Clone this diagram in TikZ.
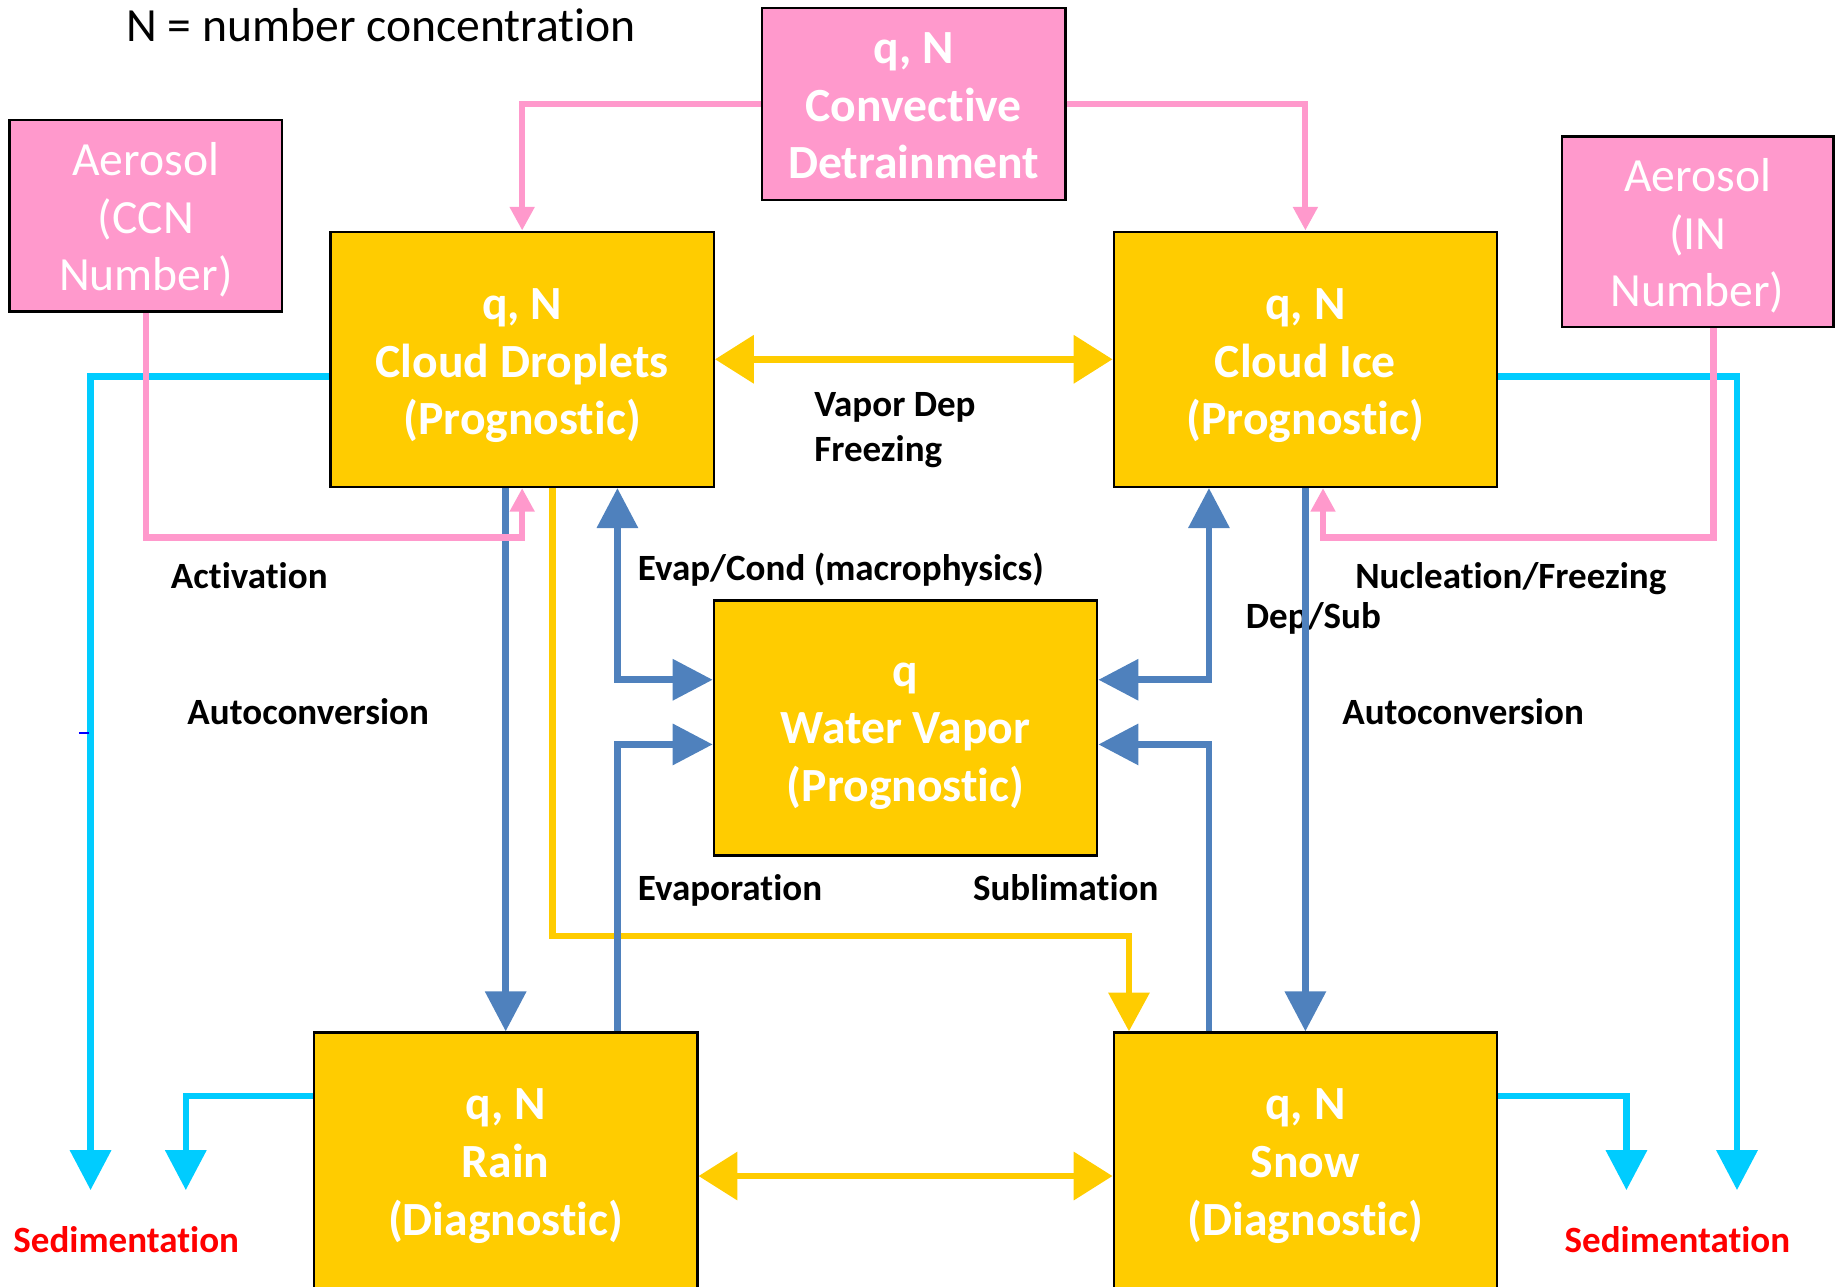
\documentclass[tikz,border=0pt]{standalone}
\usepackage{fontspec}
\setmainfont{Carlito}[Ligatures={NoCommon}]
\usetikzlibrary{arrows.meta,calc}
\definecolor{pinkc}{HTML}{FF99CC}
\definecolor{goldc}{HTML}{FFCC00}
\definecolor{bluec}{HTML}{4F81BD}
\definecolor{cyanc}{HTML}{00CCFF}
\definecolor{redc}{HTML}{FF0000}
\begin{document}
\begin{tikzpicture}[x=0.5pt,y=-0.5pt,
  box/.style={draw=black, line width=1pt, fill=goldc,
    inner sep=0pt, minimum width=163pt, minimum height=108.5pt},
  boxtxt/.style={text=white, font=\bfseries\fontsize{20.25}{24.5}\selectfont, align=center, inner sep=0pt},
  pbox/.style={draw=black, line width=1pt, fill=pinkc, inner sep=0pt},
  ptxt/.style={text=white, font=\fontsize{20.25}{24.5}\selectfont, align=center, inner sep=0pt},
  lbl/.style={font=\bfseries\fontsize{15.75}{19}\selectfont, anchor=base west, inner sep=0pt},
  yarr/.style={draw=goldc, line width=2.8pt, -{Triangle[length=16.5pt,width=17pt]}},
  yarrtwo/.style={draw=goldc, line width=2.8pt, {Triangle[length=16.5pt,width=20pt]}-{Triangle[length=16.5pt,width=20pt]}},
  barr/.style={draw=bluec, line width=2.8pt, -{Triangle[length=17pt,width=17pt]}},
  barrtwo/.style={draw=bluec, line width=2.8pt, {Triangle[length=17pt,width=17pt]}-{Triangle[length=17pt,width=17pt]}},
  carr/.style={draw=cyanc, line width=2.8pt, -{Triangle[length=17pt,width=17pt]}},
  parr/.style={draw=pinkc, line width=2.6pt, -{Triangle[length=10pt,width=10pt]}}
]
\useasboundingbox (0,0) rectangle (1568,1094);
\clip (0,0) rectangle (1568,1094);

% title
\node[anchor=base west, inner sep=0pt, font=\fontsize{20.25}{24}\selectfont] (title) at (107,35) {N = number concentration};

% boxes
\node[box] (drop) at (444,305.5) {};
\node[box] (ice) at (1110,305.5) {};
\node[box] (vap) at (770,619) {};
\node[box] (rain) at (430,986.5) {};
\node[box] (snow) at (1110,986.5) {};
\node[boxtxt] (dropt) at ($(drop)+(0,5.5)$) {q, N\\Cloud Droplets\\(Prognostic)};
\node[boxtxt] (icet) at ($(ice)+(0,5.5)$) {q, N\\Cloud Ice\\(Prognostic)};
\node[boxtxt] (vapt) at ($(vap)+(0,7)$) {q\\Water Vapor\\(Prognostic)};
\node[boxtxt] (raint) at ($(rain)+(0,5)$) {q, N\\Rain\\(Diagnostic)};
\node[boxtxt] (snowt) at ($(snow)+(0,5)$) {q, N\\Snow\\(Diagnostic)};

\node[pbox, minimum width=129pt, minimum height=81.5pt] (conv) at (777,88.5) {};
\node[pbox, minimum width=116pt, minimum height=81.5pt] (ccn) at (124,183.5) {};
\node[pbox, minimum width=115.5pt, minimum height=81pt] (in) at (1443.5,197) {};
\node[ptxt, font=\bfseries\fontsize{20.25}{24.5}\selectfont] (convt) at ($(conv)+(0,1.5)$) {q, N\\Convective\\Detrainment};
\node[ptxt] (ccnt) at ($(ccn)+(0,3.5)$) {Aerosol\\(CCN\\Number)};
\node[ptxt] (int) at ($(in)+(0,3.5)$) {Aerosol\\(IN\\Number)};

% labels
\node[lbl] (l1) at (692,354) {Vapor Dep};
\node[lbl] (l2) at (692,392) {Freezing};
\node[lbl] (l3) at (145,500) {Activation};
\node[lbl] (l4) at (542,494) {Evap/Cond (macrophysics)};
\node[lbl] (l5) at (1152,500) {Nucleation/Freezing};
\node[lbl] (l6) at (1059,534) {Dep/Sub};
\node[lbl] (l7) at (159,616) {Autoconversion};
\node[lbl] (l8) at (1141,616) {Autoconversion};
\node[lbl] (l9) at (542,766) {Evaporation};
\node[lbl] (l10) at (827,766) {Sublimation};
\node[lbl, text=redc] (l11) at (11,1065) {Sedimentation};
\node[lbl, text=redc] (l12) at (1330,1065) {Sedimentation};

% sedimentation end points
\coordinate (sA) at (77,1012);
\coordinate (sB) at (158,1012);
\coordinate (sC) at (1383,1012);
\coordinate (sD) at (1477,1012);

% yellow
\draw[yarrtwo] (drop.east) -- (ice.west);
\draw[yarrtwo] ($(rain.east)+(0,13.5)$) -- ($(snow.west)+(0,13.5)$);
\draw[yarr] ($(drop.south)+(26,0)$) -- ++(0,381) -| ($(snow.north)+(-150,0)$);

% blue
\draw[barr] ($(drop.south)+(-14,0)$) -- (rain.north);
\draw[barrtwo] ($(drop.south)+(81,0)$) |- ($(vap.west)+(0,-41)$);
\draw[barr] ($(rain.north)+(95,0)$) |- ($(vap.west)+(0,14)$);
\draw[barrtwo] ($(ice.south)+(-82,0)$) |- ($(vap.east)+(0,-41)$);
\draw[barr] ($(snow.north)+(-82,0)$) |- ($(vap.east)+(0,14)$);
\draw[barr] (ice.south) -- (snow.north);

% cyan
\draw[carr] ($(drop.west)+(0,14.5)$) -| (sA);
\draw[carr] ($(rain.west)+(0,-54.5)$) -| (sB);
\draw[carr] ($(ice.east)+(0,14.5)$) -| (sD);
\draw[carr] ($(snow.east)+(0,-54.5)$) -| (sC);

% pink
\draw[parr] (conv.west) -| (drop.north);
\draw[parr] (conv.east) -| (ice.north);
\draw[parr] (ccn.south) -- ++(0,191) -| (drop.south);
\draw[parr] ($(in.south)+(13.5,0)$) -- ++(0,178) -| ($(ice.south)+(15,0)$);

% small stray tick
\draw[blue, line width=1pt] (67,623) -- (76,623);
\end{tikzpicture}
\end{document}
